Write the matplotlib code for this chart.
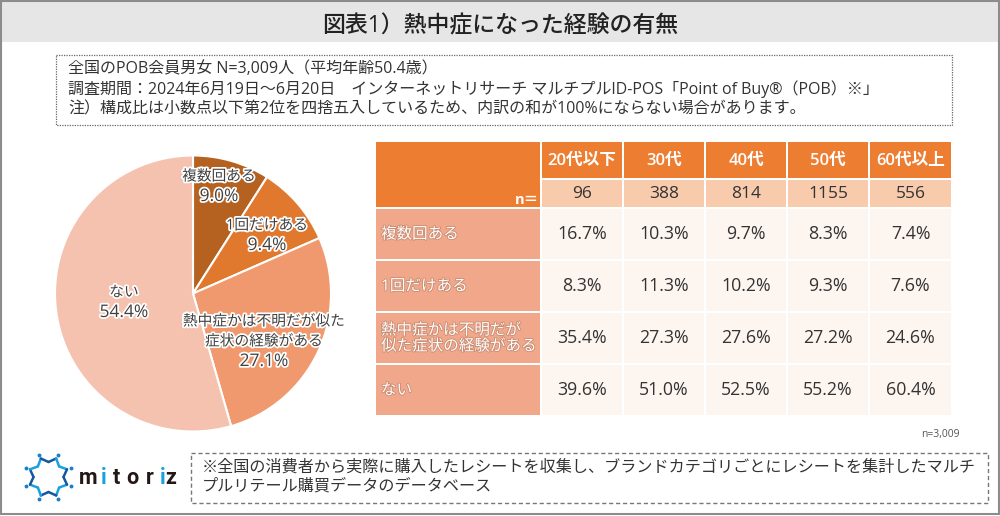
import matplotlib
matplotlib.use("Agg")
import matplotlib.pyplot as plt
import matplotlib.patheffects as pe
from matplotlib.patches import Rectangle
import numpy as np

plt.rcParams['font.family'] = ['Open Sans', 'Noto Sans CJK JP', 'DejaVu Sans']

# datos
pie_names = [["複数回ある"], ["1回だけある"], ["熱中症かは不明だが似た", "症状の経験がある"], ["ない"]]
pie_values = [9.0, 9.4, 27.1, 54.4]
pie_colors = ["#b56120", "#e0782e", "#f0996e", "#f5c2b0"]

ages = ["20代以下", "30代", "40代", "50代", "60代以上"]
n_values = ["96", "388", "814", "1155", "556"]
row_labels = ["複数回ある", "1回だけある", "熱中症かは不明だが\n似た症状の経験がある", "ない"]
table_values = [
    [16.7, 10.3, 9.7, 8.3, 7.4],
    [8.3, 11.3, 10.2, 9.3, 7.6],
    [35.4, 27.3, 27.6, 27.2, 24.6],
    [39.6, 51.0, 52.5, 55.2, 60.4],
]

title = "図表1）熱中症になった経験の有無"
note_lines = [
    "全国のPOB会員男女 N=3,009人（平均年齢50.4歳）",
    "調査期間：2024年6月19日～6月20日　インターネットリサーチ マルチプルID-POS「Point of Buy®（POB）※」",
    "注）構成比は小数点以下第2位を四捨五入しているため、内訳の和が100%にならない場合があります。",
]
foot_lines = [
    "※全国の消費者から実際に購入したレシートを収集し、ブランドカテゴリごとにレシートを集計したマルチ",
    "プルリテール購買データのデータベース",
]

W, H = 1000, 516
fig = plt.figure(figsize=(W / 100, H / 100), dpi=100, facecolor="white")

# ejes de fondo en pixeles
ax = fig.add_axes([0, 0, 1, 1])
ax.set_xlim(0, W)
ax.set_ylim(H, 0)
ax.axis("off")
ax.set_zorder(2)

# marco y titulo
ax.add_patch(Rectangle((1, 1), 998, 40.5, fc="#e6e6e6", ec="none"))
ax.add_patch(Rectangle((1, 1), 998, 513, fc="none", ec="#8c8c8c", lw=1.5))
ax.text(500, 26, title, ha="center", va="center", fontsize=16.5, fontweight="medium", color="#222222")

# recuadro de notas
ax.add_patch(Rectangle((56, 55), 896, 70, fc="none", ec="#666666", lw=0.9, ls=(0, (1, 1))))
for y, line in zip([69, 89, 109], note_lines):
    ax.text(68, y, line, ha="left", va="center", fontsize=11.55, color="#333333")

# pastel
cx, cy, r = 193, 293.5, 138
ax_pie = fig.add_axes([(cx - r) / W, 1 - (cy + r) / H, 2 * r / W, 2 * r / H])
ax_pie.set_zorder(1)
ax_pie.pie(pie_values, colors=pie_colors, startangle=90, counterclock=False, radius=1,
           wedgeprops=dict(edgecolor="white", linewidth=1.5))
ax_pie.set_xlim(-1, 1)
ax_pie.set_ylim(-1, 1)

# etiquetas del pastel, una linea cada vez
stroke = [pe.withStroke(linewidth=2.5, foreground="white")]
label_x = [219, 267, 264, 124]
label_y = [177, 226, 322, 293]
for x, y, names, v in zip(label_x, label_y, pie_names, pie_values):
    for name in names:
        ax.text(x, y, name, ha="center", va="center", fontsize=10.6, color="#404040",
                path_effects=stroke, zorder=5)
        y += 20
    ax.text(x, y, f"{v:.1f}%", ha="center", va="center", fontsize=12.5, color="#404040",
            path_effects=stroke, zorder=5)

# tabla
col_x = [(542, 622), (624, 704), (706, 786), (788, 868), (870, 951)]
row_y = [(209, 259), (261, 311), (313, 363), (365, 415)]
ax.add_patch(Rectangle((376, 142), 164, 65, fc="#ed7d31", ec="none"))
ax.text(539, 200, "n＝", ha="right", va="center", fontsize=10.5, fontweight="bold", color="white")

for (x0, x1), age, n in zip(col_x, ages, n_values):
    ax.add_patch(Rectangle((x0, 142), x1 - x0, 36, fc="#ed7d31", ec="none"))
    ax.add_patch(Rectangle((x0, 180), x1 - x0, 27, fc="#f8cbad", ec="none"))
    ax.text((x0 + x1) / 2, 161, age, ha="center", va="center", fontsize=12, fontweight="semibold", color="white")
    ax.text((x0 + x1) / 2, 194, n, ha="center", va="center", fontsize=12.5, color="#333333")

for (y0, y1), label, vals in zip(row_y, row_labels, table_values):
    ax.add_patch(Rectangle((376, y0), 164, y1 - y0, fc="#f1a78a", ec="none"))
    ax.text(381, (y0 + y1) / 2 + 0.5, label, ha="left", va="center", fontsize=11.2, color="white",
            linespacing=1.0, path_effects=[pe.withStroke(linewidth=1.2, foreground="#c98a70")])
    for (x0, x1), v in zip(col_x, vals):
        ax.add_patch(Rectangle((x0, y0), x1 - x0, y1 - y0, fc="#fdf5f0", ec="none"))
        ax.text((x0 + x1) / 2, (y0 + y1) / 2, f"{v:.1f}%", ha="center", va="center", fontsize=12.8, color="#333333")

ax.text(960, 434, "n=3,009", ha="right", va="center", fontsize=7.5, color="#555555")

# logo
lx, ly = 48.5, 477
angles = np.linspace(0, 2 * np.pi, 17)
radii = np.where(np.arange(17) % 2 == 0, 20, 15)
px = lx + radii * np.cos(angles + np.pi / 8)
py = ly + radii * np.sin(angles + np.pi / 8)
for i in range(16):
    col = "#1a9fe0" if i % 4 < 2 else "#15589e"
    ax.plot(px[i:i + 2], py[i:i + 2], color=col, lw=1.8, solid_capstyle="round")
for a in np.arange(8) * np.pi / 4 + np.pi / 8:
    ax.plot(lx + 24 * np.cos(a), ly + 24 * np.sin(a), "o", ms=1.8, color="#1a7fc8")
for x, ch, col in [(88.5, "m", "#231815"), (104, "i", "#1a9fe0"), (116.5, "t", "#231815"), (132.5, "o", "#231815"),
                   (150, "r", "#231815"), (162.5, "i", "#1a9fe0"), (170.5, "z", "#231815")]:
    ax.text(x, 483.5, ch, ha="center", va="baseline", fontsize=15.5, fontweight="bold", color=col, family="Roboto")

# recuadro inferior
ax.add_patch(Rectangle((191, 453), 797, 50, fc="none", ec="#777777", lw=1.0, ls=(0, (3, 2))))
for y, line in zip([468, 487], foot_lines):
    ax.text(202, y, line, ha="left", va="center", fontsize=11.6, color="#333333")

fig.savefig("out.png", dpi=100)
